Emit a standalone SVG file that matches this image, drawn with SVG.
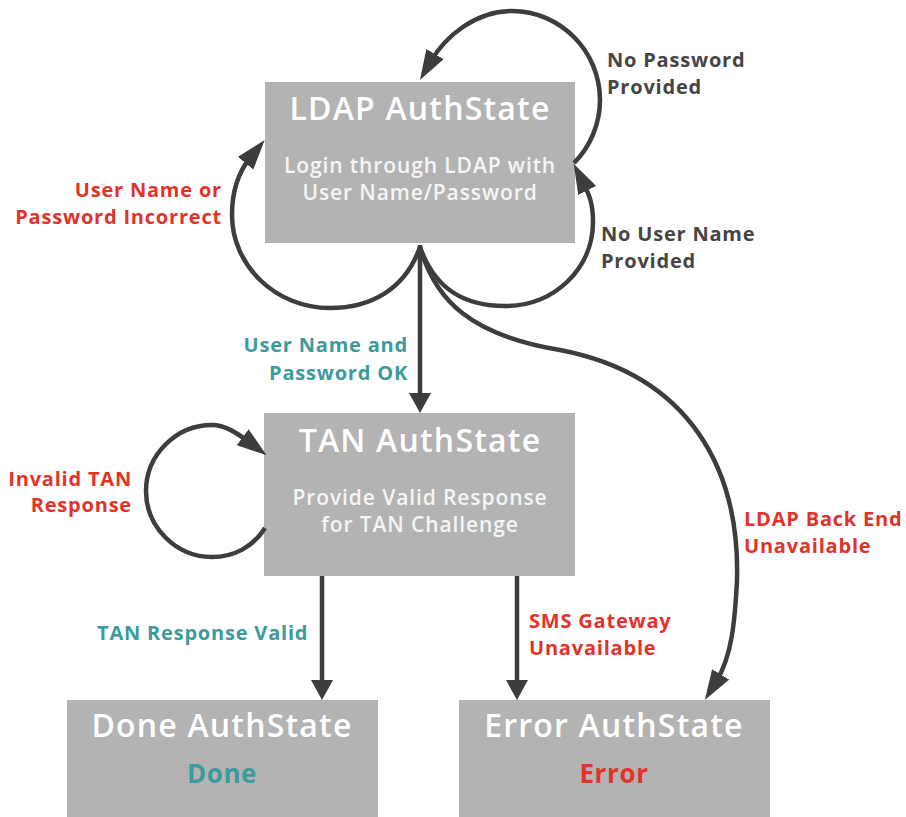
<svg xmlns="http://www.w3.org/2000/svg" width="906" height="817" viewBox="0 0 906 817">
  <style>
    .box { fill: #b3b3b3; }
    .title { font-family: "Open Sans", "Liberation Sans", sans-serif; font-weight: 600; font-size: 32px; letter-spacing: 1.2px; fill: #ffffff; text-anchor: middle; }
    .sub { font-family: "Open Sans", "Liberation Sans", sans-serif; font-weight: 600; font-size: 21px; letter-spacing: 0.9px; fill: #f5f5f5; text-anchor: middle; }
    .result { font-family: "Open Sans", "Liberation Sans", sans-serif; font-weight: 700; font-size: 26px; letter-spacing: 0.6px; text-anchor: middle; }
    .lbl { font-family: "Open Sans", "Liberation Sans", sans-serif; font-weight: 700; font-size: 20px; letter-spacing: 0.8px; }
    .dark { fill: #454545; }
    .red { fill: #e2332a; }
    .teal { fill: #3b9b9d; }
    .edge { fill: none; stroke: #3d3d3d; stroke-width: 4.5; }
    .straight { marker-end: url(#headStraight); }
    .curved { marker-end: url(#headCurved); }
  </style>
  <defs>
    <marker id="headStraight" markerUnits="userSpaceOnUse" viewBox="0 0 20 22" markerWidth="20" markerHeight="22" refX="6" refY="11" orient="auto">
      <path d="M0,0 L20,11 L0,22 z" fill="#3d3d3d"/>
    </marker>
    <marker id="headCurved" markerUnits="userSpaceOnUse" viewBox="0 0 30 20" markerWidth="30" markerHeight="20" refX="8" refY="10" orient="auto">
      <path d="M0,0 L30,10 L0,20 z" fill="#3d3d3d"/>
    </marker>
  </defs>

  <rect width="906" height="817" fill="#ffffff"/>

  <!-- state boxes -->
  <g id="ldap">
    <rect class="box" x="265" y="82" width="310" height="161"/>
    <text class="title" x="420" y="120">LDAP AuthState</text>
    <text class="sub" x="420" y="173">Login through LDAP with</text>
    <text class="sub" x="420" y="200">User Name/Password</text>
  </g>

  <g id="tan">
    <rect class="box" x="264" y="413" width="311" height="163"/>
    <text class="title" x="420" y="452">TAN AuthState</text>
    <text class="sub" x="420" y="505">Provide Valid Response</text>
    <text class="sub" x="420" y="532">for TAN Challenge</text>
  </g>

  <g id="done">
    <rect class="box" x="67" y="700" width="311" height="117"/>
    <text class="title" x="222" y="737">Done AuthState</text>
    <text class="result teal" x="222" y="783">Done</text>
  </g>

  <g id="error">
    <rect class="box" x="459" y="700" width="311" height="117"/>
    <text class="title" x="614" y="737">Error AuthState</text>
    <text class="result red" x="614" y="783">Error</text>
  </g>

  <!-- transitions -->
  <g id="connectors">
    <path class="edge straight" d="M420,245 V399"/>
    <path class="edge straight" d="M322,576 V686"/>
    <path class="edge straight" d="M517,576 V686"/>
    <!-- No Password Provided -->
    <path class="edge curved" d="M574,163 C590.5,146.5 600,123.3 600,100 C600,51.4 560.6,11 512,11 C475,11 445,37 431,61"/>
    <!-- No User Name Provided -->
    <path class="edge curved" d="M420,247 C435,290 465,306 505,306 C555,306 593,268 593,222 C593,205 590,196 583.6,183.4"/>
    <!-- User Name or Password Incorrect -->
    <path class="edge curved" d="M420,247 C405,290 370,308 330,308 C275,308 232,265 232,215 C232,190 240,170 250.7,157"/>
    <!-- Invalid TAN Response -->
    <path class="edge curved" d="M265,528 C253,547 234,557 212,557 C176,557 146,527 146,491 C146,455 176,425 212,425 C225,425 237,433 249,442"/>
    <!-- LDAP Back End Unavailable -->
    <path class="edge curved" d="M420,247 C435,300 470,335 560,350 C690,375 740,470 737,580 C735,620 732,656 716.4,681.2"/>
  </g>

  <!-- transition labels -->
  <g id="labels">
    <text class="lbl dark" x="607" y="67">No Password</text>
    <text class="lbl dark" x="607" y="94">Provided</text>
    <text class="lbl dark" x="601" y="241">No User Name</text>
    <text class="lbl dark" x="601" y="268">Provided</text>
    <text class="lbl red" x="222" y="197" text-anchor="end">User Name or</text>
    <text class="lbl red" x="222" y="224" text-anchor="end">Password Incorrect</text>
    <text class="lbl teal" x="408" y="352" text-anchor="end">User Name and</text>
    <text class="lbl teal" x="408" y="380" text-anchor="end">Password OK</text>
    <text class="lbl red" x="132" y="486" text-anchor="end">Invalid TAN</text>
    <text class="lbl red" x="132" y="512" text-anchor="end">Response</text>
    <text class="lbl teal" x="97" y="640">TAN Response Valid</text>
    <text class="lbl red" x="529" y="628">SMS Gateway</text>
    <text class="lbl red" x="529" y="655">Unavailable</text>
    <text class="lbl red" x="744" y="526">LDAP Back End</text>
    <text class="lbl red" x="744" y="553">Unavailable</text>
  </g>
</svg>
